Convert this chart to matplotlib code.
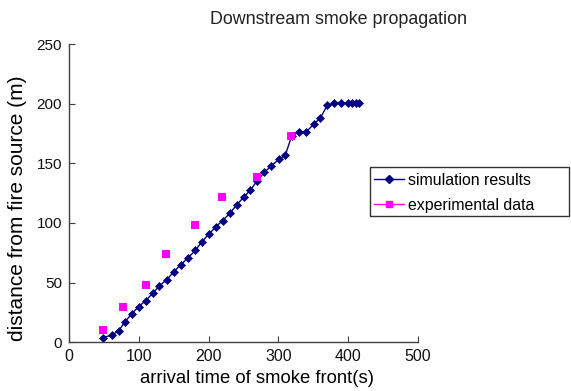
import matplotlib.pyplot as plt
from matplotlib.lines import Line2D
from matplotlib.patches import Rectangle

plt.rcParams['font.family'] = ['Liberation Sans', 'DejaVu Sans']

# simulated arrival time of the smoke front (s) and distance (m)
sim_time = [49, 61, 71, 80, 90, 100, 110, 120, 129, 140, 150, 160, 170, 181,
            190, 200, 210, 220, 231, 240, 250, 260, 269, 280, 290, 301, 310,
            319, 330, 340, 351, 360, 370, 380, 390, 400, 406, 411, 416]
sim_dist = [4, 6, 9.5, 17, 24, 30, 35, 41, 47, 52.5, 59, 65, 70.5, 77,
            84, 90.5, 96.5, 102, 108.5, 115, 121.5, 127.5, 135, 142.5, 148, 153.5, 157,
            173, 176.5, 176.5, 183, 188, 198.5, 200.5, 200.5, 200.5, 200.5, 200.5, 200.5]

# measured values
exp_time = [49, 78, 110, 139, 180, 219, 269, 318]
exp_dist = [10, 30, 48, 74, 98, 122, 138.5, 173]

navy = '#000080'
magenta = '#ff00ff'
spine_col = '#404040'

W, H = 571, 391
fig = plt.figure(figsize=(W / 100, H / 100), dpi=100)
ax = fig.add_axes([69 / W, 1 - 342.3 / H, 349 / W, 298.3 / H])

ax.plot(sim_time, sim_dist, color=navy, lw=1, marker='D', markersize=4.5,
        markeredgewidth=0.5, zorder=2)
ax.plot(exp_time, exp_dist, ls='none', marker='s', color=magenta,
        markersize=6, markeredgewidth=0, zorder=3)

ax.set_xlim(0, 500)
ax.set_ylim(0, 250)
ax.set_xticks(range(0, 501, 100))
ax.set_yticks(range(0, 251, 50))
for side in ('top', 'right'):
    ax.spines[side].set_visible(False)
for side in ('left', 'bottom'):
    ax.spines[side].set_color(spine_col)
    ax.spines[side].set_linewidth(1)
ax.tick_params(direction='in', length=4, color=spine_col, labelsize=11.5,
               labelcolor='#111111', pad=5)
ax.tick_params(axis='y', labelsize=11)

ax.set_xlabel('arrival time of smoke front(s)', fontsize=13.3)
ax.xaxis.set_label_coords(257 / W, 1 - 370 / H, transform=fig.transFigure)
ax.set_ylabel('distance from fire source (m)', fontsize=15)
ax.yaxis.set_label_coords(27 / W, 1 - 208 / H, transform=fig.transFigure)

fig.text(338.5 / W, 1 - 19 / H, 'Downstream smoke propagation', ha='center',
         va='center', fontsize=12.9, color='#222222')

# legend: box drawn separately so it can be wider than its text
fig.patches.append(Rectangle((370 / W, 1 - 216 / H), 199 / W, 49 / H,
                             transform=fig.transFigure, fill=True,
                             facecolor='white', edgecolor='#333333', lw=1,
                             zorder=5))
handles = [Line2D([], [], color=navy, lw=1, marker='D', markersize=4.5),
           Line2D([], [], color=magenta, lw=1, marker='s', markersize=5)]
leg = fig.legend(handles, ['simulation results', 'experimental data'],
                 loc='upper left', bbox_to_anchor=(372 / W, 1 - 171 / H),
                 bbox_transform=fig.transFigure, fontsize=11.4,
                 frameon=False, borderaxespad=0,
                 handlelength=1.95, handletextpad=0.2, borderpad=0.1,
                 labelspacing=0.63)
leg.set_zorder(6)

fig.savefig('out.png', dpi=100)
